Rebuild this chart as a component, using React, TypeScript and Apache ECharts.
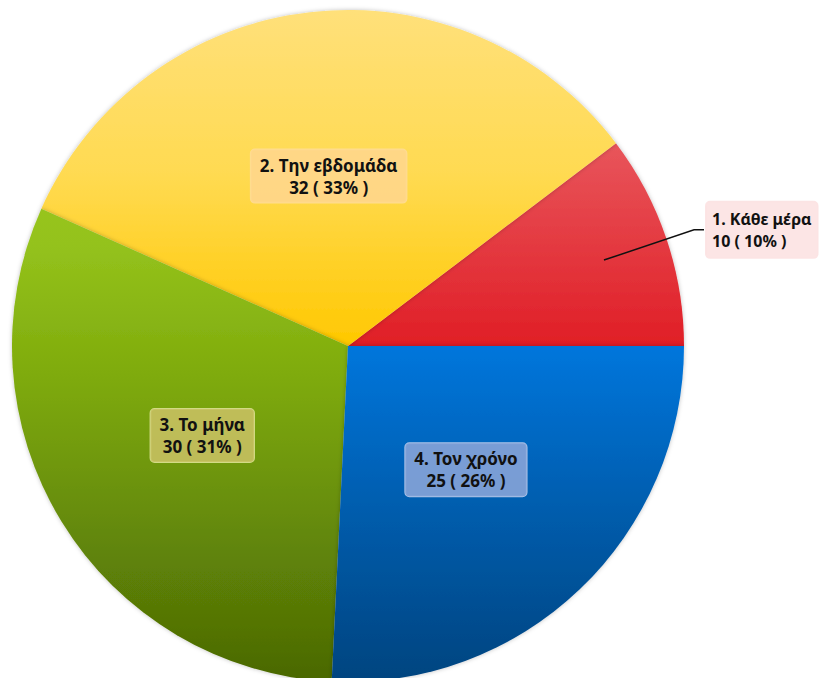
import React, { useEffect, useRef } from "react";
import * as echarts from "echarts";

const categories = ["1. Κάθε μέρα", "2. Την εβδομάδα", "3. Το μήνα", "4. Τον χρόνο"];
const values = [10, 32, 30, 25];

const grad = (stops: [number, string][]) => ({
  type: "linear",
  global: true,
  x: 0,
  y: 10,
  x2: 0,
  y2: 682,
  colorStops: stops.map(([offset, color]) => ({ offset, color })),
});

const sliceColors = [
  grad([[0, "#EE6A70"], [0.2, "#E8555B"], [0.5, "#E01E26"], [1, "#B01015"]]),
  grad([[0, "#FFE07A"], [0.25, "#FFDA50"], [0.5, "#FFC800"], [1, "#E0A800"]]),
  grad([[0, "#A8D030"], [0.35, "#94C21C"], [0.55, "#7EAA0C"], [1, "#4A6804"]]),
  grad([[0, "#2090F0"], [0.5, "#0076DC"], [0.75, "#005CAC"], [1, "#00447F"]]),
];

const labelBoxes = [
  { backgroundColor: "rgba(252,228,228,0.95)", borderColor: "rgba(252,228,228,0.95)" },
  { backgroundColor: "rgba(255,214,140,0.9)", borderColor: "rgba(255,222,150,0.9)" },
  { backgroundColor: "rgba(198,192,96,0.9)", borderColor: "rgba(215,222,140,0.95)" },
  { backgroundColor: "rgba(128,160,214,0.95)", borderColor: "rgba(180,200,235,0.95)" },
];

export default function App() {
  const ref = useRef<HTMLDivElement>(null);
  useEffect(() => {
    if (!ref.current) return;
    const chart = echarts.init(ref.current, null, { renderer: "svg" });
    const baseLabel = {
      formatter: "{b}\n{c} ( {d}% )",
      fontFamily: "Noto Sans",
      fontWeight: "bold" as const,
      fontSize: 17,
      lineHeight: 22,
      color: "#111",
      align: "center" as const,
      padding: [5, 9, 4, 9],
      borderRadius: 4,
      borderWidth: 1,
      overflow: "none" as const,
    };
    chart.setOption({
      animation: false,
      backgroundColor: "#ffffff",
      series: [
        {
          type: "pie",
          z: 2,
          center: [348, 346],
          radius: 336,
          startAngle: 0,
          clockwise: false,
          percentPrecision: 0,
          silent: true,
          avoidLabelOverlap: false,
          itemStyle: { borderWidth: 0, shadowColor: "rgba(0,0,0,0.25)", shadowBlur: 4 },
          label: { ...baseLabel, position: "inside" },
          labelLine: { show: false },
          data: categories.map((name, i) => ({
            name,
            value: values[i],
            itemStyle: { color: sliceColors[i] },
            label: i === 0 ? { show: false } : { ...baseLabel, position: "inside", ...labelBoxes[i] },
          })),
        },
        {
          type: "pie",
          z: 5,
          center: [348, 346],
          radius: 270,
          startAngle: 0,
          clockwise: false,
          percentPrecision: 0,
          silent: true,
          avoidLabelOverlap: false,
          itemStyle: { color: "rgba(0,0,0,0)", borderWidth: 0 },
          label: { show: false },
          labelLine: { show: false },
          data: categories.map((name, i) => ({
            name,
            value: values[i],
            label:
              i === 0
                ? {
                    ...baseLabel,
                    show: true,
                    position: "outside",
                    fontSize: 16,
                    distanceToLabelLine: 2,
                    padding: [6, 6, 6, 6],
                    ...labelBoxes[0],
                  }
                : { show: false },
            labelLine:
              i === 0
                ? { show: true, length: 95, length2: 10, lineStyle: { color: "#111", width: 1.5 } }
                : { show: false },
          })),
        },
      ],
    });
    return () => chart.dispose();
  }, []);
  return (
    <div
      ref={ref}
      style={{ position: "fixed", left: 0, top: 0, width: 826, height: 678, background: "#fff" }}
    />
  );
}
